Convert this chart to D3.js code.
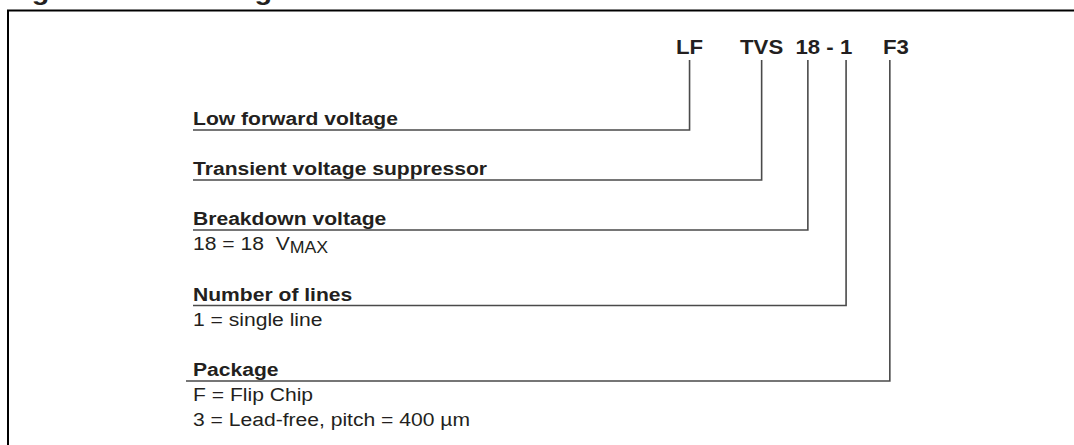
<!DOCTYPE html>
<meta charset="utf-8">
<style>
  body { margin: 0; background: #fff; }
  text { font-family: "Liberation Sans", Arial, sans-serif; fill: #231f20; }
</style>

<!-- Load d3.js -->
<script src="https://d3js.org/d3.v7.min.js"></script>

<div id="my_chart"></div>
<script>
    // ordering code, split into its parts
    var codeParts = ["LF", "TVS", "18", "-", "1", "F", "3"];
    var codeGaps = ["      ", "  ", " ", " ", "     ", "", ""];
    // parts that get a leader line, in order of the rows below
    var fieldCodes = ["LF", "TVS", "18", "1", "F"];
    var fieldTitles = ["Low forward voltage", "Transient voltage suppressor", "Breakdown voltage",
        "Number of lines", "Package"];
    // "_" marks a subscript
    var fieldNotes = [[], [], ["18 = 18  V_MAX"], ["1 = single line"],
        ["F = Flip Chip", "3 = Lead-free, pitch = 400 µm"]];
    var figureTitle = "Figure 15. Ordering information scheme";

    var width = 1074, height = 445;
    var stretch = 1.11;     // the scan is a bit wider than tall
    var labelX = 193;
    var firstRowY = 130, rowStep = 50, noteStep = 25.5;
    var codeX = 676, codeY = 54, leaderTop = 60;

    var svg = d3.select("#my_chart")
        .append("svg")
        .attr("width", width)
        .attr("height", height);

    // frame (only top and left edge are inside the picture)
    svg.append("rect")
        .attr("x", 8)
        .attr("y", 10.5)
        .attr("width", width + 50)
        .attr("height", height + 50)
        .attr("fill", "none")
        .attr("stroke", "#000")
        .attr("stroke-width", 2);

    // figure title, mostly cut off by the top edge
    svg.append("text")
        .attr("transform", "translate(6,-0.5) scale(" + stretch + ",1)")
        .style("font-size", "26px")
        .style("font-weight", "bold")
        .text(figureTitle);

    // row positions: each note line adds some room under its row
    var rowY = [];
    var acc = firstRowY;
    fieldTitles.forEach(function(t, i) {
        rowY.push(acc);
        acc += rowStep + noteStep * fieldNotes[i].length;
    });
    var y = d3.scaleOrdinal().domain(fieldTitles).range(rowY);

    // Add the code text
    var codeString = codeParts.map(function(p, i) { return p + codeGaps[i]; }).join("");
    var code = svg.append("text")
        .attr("transform", "translate(" + codeX + "," + codeY + ") scale(" + stretch + ",1)")
        .style("font-size", "20px")
        .style("font-weight", "bold")
        .style("white-space", "pre")
        .attr("xml:space", "preserve")
        .text(codeString);

    // find the centre of each part of the code
    var node = code.node();
    var partCenter = {};
    var pos = 0;
    codeParts.forEach(function(p, i) {
        var x0 = node.getStartPositionOfChar(pos).x;
        var x1 = node.getEndPositionOfChar(pos + p.length - 1).x;
        partCenter[p] = codeX + stretch * (x0 + x1) / 2;
        pos += p.length + codeGaps[i].length;
    });

    // Add leader lines
    fieldTitles.forEach(function(t, i) {
        var cx = partCenter[fieldCodes[i]];
        var yy = y(t);
        var startX = i === fieldTitles.length - 1 ? labelX - 7 : labelX;
        svg.append("path")
            .attr("fill", "none")
            .attr("stroke", "#4a4a4a")
            .attr("stroke-width", 1.6)
            .attr("d", d3.line()([[cx, leaderTop], [cx, yy], [startX, yy]]));
    });

    // Add titles
    svg.selectAll(".title")
        .data(fieldTitles)
        .enter()
        .append("text")
        .attr("class", "title")
        .attr("transform", function(d) { return "translate(" + labelX + "," + (y(d) - 5) + ") scale(" + stretch + ",1)"; })
        .style("font-size", "19px")
        .style("font-weight", "bold")
        .text(function(d) { return d; });

    // Add notes under the titles
    fieldTitles.forEach(function(t, i) {
        fieldNotes[i].forEach(function(n, j) {
            var parts = n.split("_");
            var txt = svg.append("text")
                .attr("transform", "translate(" + labelX + "," + (y(t) + 20 + j * 24.5) + ") scale(" + stretch + ",1)")
                .style("font-size", "19px")
                .attr("xml:space", "preserve")
                .style("white-space", "pre");
            txt.append("tspan").text(parts[0]);
            if (parts.length > 1) {
                txt.append("tspan")
                    .attr("dy", 3)
                    .style("font-size", "16px")
                    .text(parts[1]);
            }
        });
    });
</script>
